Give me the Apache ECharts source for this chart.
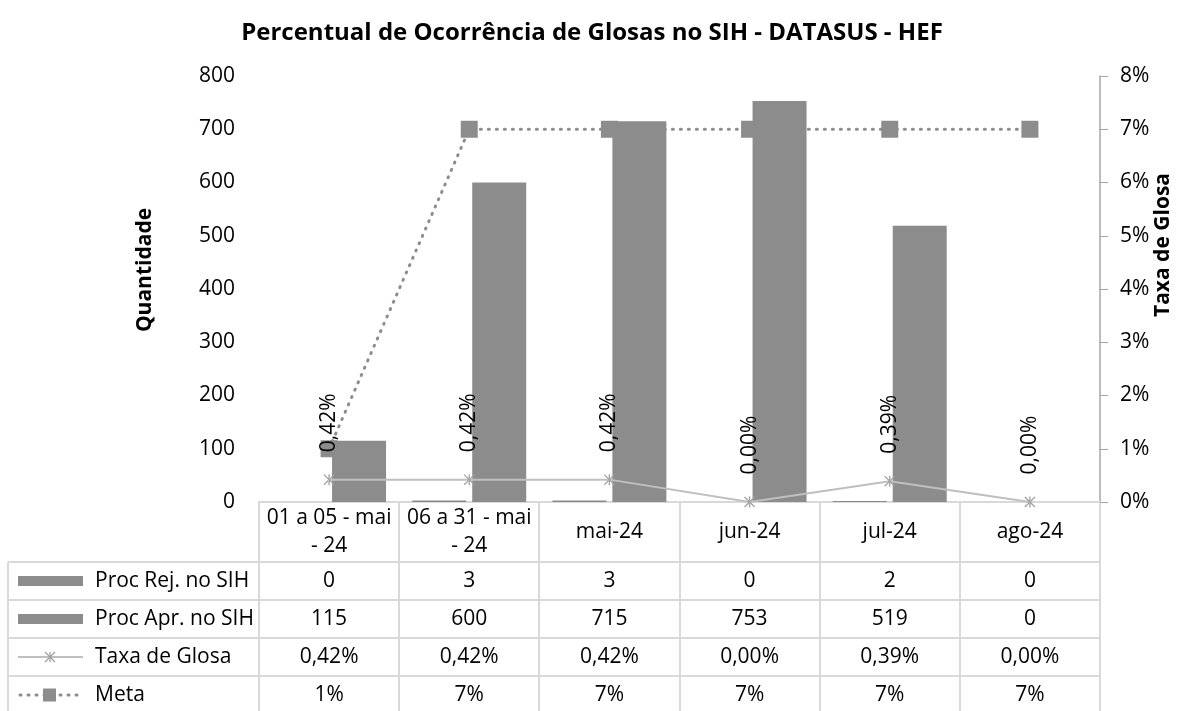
<!DOCTYPE html>
<html>
<head>
<meta charset="utf-8">
<script src="https://cdn.jsdelivr.net/npm/echarts@6/dist/echarts.min.js"></script>
<style>
  html, body { margin: 0; padding: 0; background: #fff; }
  #chart { width: 1184px; height: 711px; }
</style>
</head>
<body>
<div id="chart"></div>
<script>
// dados do gráfico
const categorias = ['01 a 05 - mai - 24', '06 a 31 - mai - 24', 'mai-24', 'jun-24', 'jul-24', 'ago-24'];
const procRej = [0, 3, 3, 0, 2, 0];
const procApr = [115, 600, 715, 753, 519, 0];
const taxaGlosa = [0.0042, 0.0042, 0.0042, 0, 0.0039, 0];
const meta = [0.01, 0.07, 0.07, 0.07, 0.07, 0.07];
const nomesSeries = ['Proc Rej. no SIH', 'Proc Apr. no SIH', 'Taxa de Glosa', 'Meta'];

const FONTE = '"Open Sans", sans-serif';
const TAM = 21;
const CINZA = '#8c8c8c';
const LINHA_TAB = '#d9d9d9';

const fmtTaxa = v => (v * 100).toFixed(2).replace('.', ',') + '%';
const fmtMeta = v => (v * 100).toFixed(0) + '%';

// asterisco do marcador da taxa
const asterisco = 'path://M4.4 0L5.6 0L5.6 10L4.4 10Z M0 0.8L0.8 0L10 9.2L9.2 10Z M10 0.8L9.2 0L0 9.2L0.8 10Z';

const myChart = echarts.init(document.getElementById('chart'));

myChart.setOption({
  animation: false,
  title: {
    text: 'Percentual de Ocorrência de Glosas no SIH - DATASUS - HEF',
    left: 'center',
    top: 16,
    textStyle: { fontFamily: FONTE, fontSize: 24, fontWeight: 'bold', color: '#000' }
  },
  grid: { left: 259, right: 84, top: 76, bottom: 209 },
  xAxis: {
    type: 'category',
    data: categorias,
    axisLine: { show: true, lineStyle: { color: LINHA_TAB, width: 2 } },
    axisTick: { show: false },
    axisLabel: {
      margin: 30,
      verticalAlign: 'middle',
      color: '#000',
      fontFamily: FONTE,
      fontSize: TAM,
      lineHeight: 28,
      interval: 0,
      // quebra "xx a yy - mai - 24" em duas linhas
      formatter: v => v.length > 10 ? v.replace(/ - (\d+)$/, '\n- $1') : v
    }
  },
  yAxis: [
    {
      type: 'value',
      min: 0, max: 800, interval: 100,
      splitLine: { show: false },
      axisLine: { show: false },
      axisTick: { show: false },
      axisLabel: { margin: 24, color: '#000', fontFamily: FONTE, fontSize: TAM }
    },
    {
      type: 'value',
      min: 0, max: 0.08, interval: 0.01,
      position: 'right',
      splitLine: { show: false },
      axisLine: { show: true, lineStyle: { color: '#a6a6a6', width: 1.5 } },
      axisTick: { show: true, length: 8, lineStyle: { color: '#a6a6a6' } },
      axisLabel: { margin: 20, color: '#000', fontFamily: FONTE, fontSize: TAM, formatter: fmtMeta }
    }
  ],
  series: [
    {
      name: nomesSeries[0], type: 'bar', data: procRej,
      barWidth: 54, barGap: '11%',
      itemStyle: { color: CINZA }
    },
    {
      name: nomesSeries[1], type: 'bar', data: procApr,
      barWidth: 54,
      itemStyle: { color: CINZA }
    },
    {
      name: nomesSeries[2], type: 'line', yAxisIndex: 1, data: taxaGlosa,
      symbol: asterisco, symbolSize: 11,
      lineStyle: { color: '#bfbfbf', width: 2 },
      itemStyle: { color: '#a0a0a0' },
      label: {
        show: true, position: 'top', distance: 22, rotate: 90,
        align: 'left', verticalAlign: 'middle',
        color: '#000', fontFamily: FONTE, fontSize: TAM,
        formatter: p => fmtTaxa(p.value)
      },
      z: 3
    },
    {
      name: nomesSeries[3], type: 'line', yAxisIndex: 1, data: meta,
      symbol: 'rect', symbolSize: 17,
      lineStyle: { color: CINZA, width: 3, type: [1, 7], cap: 'round' },
      itemStyle: { color: CINZA },
      z: 2
    }
  ]
});

// tabela de dados abaixo do gráfico
function desenhaTabela() {
  const c0 = myChart.convertToPixel({ xAxisIndex: 0 }, 0);
  const c1 = myChart.convertToPixel({ xAxisIndex: 0 }, 1);
  const larg = c1 - c0;
  const xIni = c0 - larg / 2;
  const xFim = xIni + larg * categorias.length;
  const yTopo = myChart.convertToPixel({ yAxisIndex: 0 }, 0);
  const yCab = yTopo + 60;
  const altLinha = 38;
  const xEsq = 8;
  const linhas = [
    procRej.map(String),
    procApr.map(String),
    taxaGlosa.map(fmtTaxa),
    meta.map(fmtMeta)
  ];
  const fonte = TAM + 'px ' + FONTE;
  const els = [];
  const traco = (x1, y1, x2, y2, cor, larg) => els.push({
    type: 'line', silent: true,
    shape: { x1, y1, x2, y2 },
    style: { stroke: cor || LINHA_TAB, lineWidth: larg || 2 }
  });

  // linhas verticais
  for (let i = 0; i <= categorias.length; i++) {
    const x = Math.round(xIni + larg * i);
    traco(x, yTopo, x, 711);
  }
  traco(xEsq, yCab, xEsq, 711);
  // linhas horizontais
  for (let r = 0; r <= linhas.length; r++) {
    const y = yCab + altLinha * r;
    traco(xEsq, y, xFim, y);
  }

  linhas.forEach((vals, r) => {
    const yMeio = yCab + altLinha * r + altLinha / 2;
    els.push({
      type: 'text', silent: true,
      style: { text: nomesSeries[r], x: 95, y: yMeio, font: fonte, fill: '#000',
        align: 'left', verticalAlign: 'middle', textAlign: 'left', textVerticalAlign: 'middle' }
    });
    vals.forEach((t, i) => {
      els.push({
        type: 'text', silent: true,
        style: { text: t, x: xIni + larg * (i + 0.5), y: yMeio, font: fonte, fill: '#000',
          align: 'center', verticalAlign: 'middle', textAlign: 'center', textVerticalAlign: 'middle' }
      });
    });
    // ícones da legenda
    if (r < 2) {
      els.push({ type: 'rect', silent: true,
        shape: { x: 18, y: yMeio - 5, width: 65, height: 10 },
        style: { fill: CINZA } });
    } else if (r === 2) {
      traco(18, yMeio, 83, yMeio, '#bfbfbf', 2);
      traco(45, yMeio - 5, 55, yMeio + 5, '#a0a0a0', 1.3);
      traco(55, yMeio - 5, 45, yMeio + 5, '#a0a0a0', 1.3);
      traco(50, yMeio - 5, 50, yMeio + 5, '#a0a0a0', 1.3);
    } else {
      els.push({ type: 'line', silent: true,
        shape: { x1: 20, y1: yMeio, x2: 82, y2: yMeio },
        style: { stroke: CINZA, lineWidth: 3, lineDash: [1, 7], lineCap: 'round' } });
      els.push({ type: 'rect', silent: true,
        shape: { x: 43, y: yMeio - 6.5, width: 13, height: 13 },
        style: { fill: CINZA } });
    }
  });

  // títulos dos eixos
  els.push({
    type: 'text', silent: true, rotation: Math.PI / 2, x: 145, y: 270,
    style: { text: 'Quantidade', font: 'bold ' + TAM + 'px ' + FONTE, fill: '#000',
      align: 'center', verticalAlign: 'middle', textAlign: 'center', textVerticalAlign: 'middle' }
  });
  els.push({
    type: 'text', silent: true, rotation: Math.PI / 2, x: 1163, y: 245,
    style: { text: 'Taxa de Glosa', font: 'bold ' + TAM + 'px ' + FONTE, fill: '#000',
      align: 'center', verticalAlign: 'middle', textAlign: 'center', textVerticalAlign: 'middle' }
  });

  myChart.setOption({ graphic: { elements: els } });
}
desenhaTabela();
</script>
</body>
</html>
